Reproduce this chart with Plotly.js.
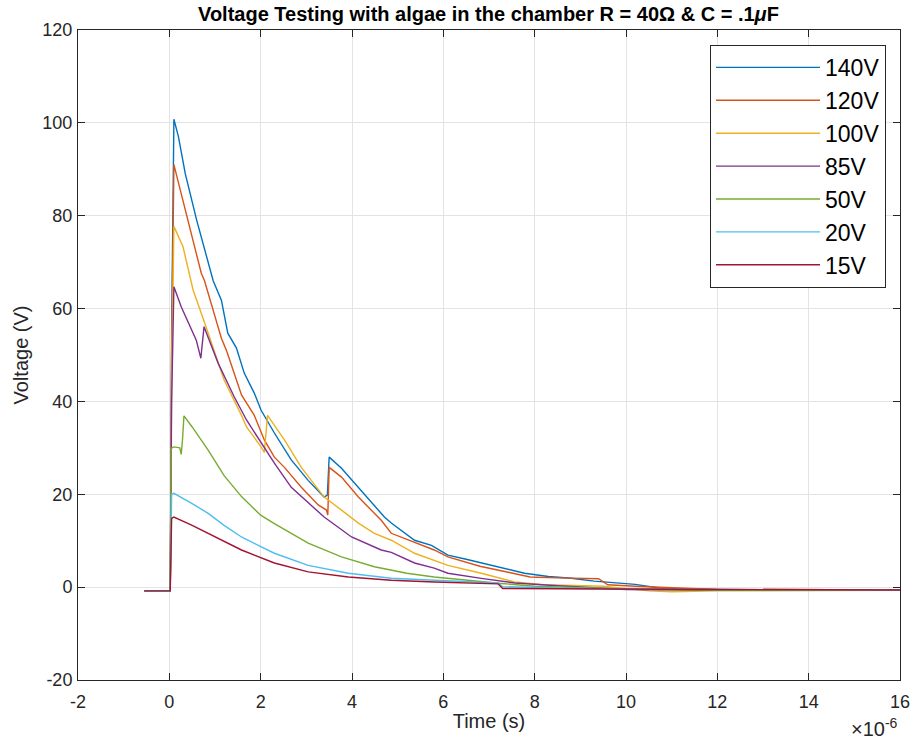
<!DOCTYPE html>
<html>
<head>
<meta charset="utf-8">
<script src="https://cdn.plot.ly/plotly-3.0.1.min.js"></script>
<style>html,body{margin:0;padding:0;background:#fff;}#chart{width:913px;height:740px;}</style>
</head>
<body>
<div id="chart"></div>
<script>
// time in units of 1e-6 s (axis shows ×10^-6), voltage in V
const labels = ["140V", "120V", "100V", "85V", "50V", "20V", "15V"];
const colors = ["#0072BD", "#D95319", "#EDB120", "#7E2F8E", "#77AC30", "#4DBEEE", "#A2142F"];

const t140 = [-0.55, 0.02, 0.05, 0.1, 0.2, 0.35, 0.6, 0.85, 0.96, 1.14, 1.28, 1.47, 1.64, 1.86, 2.01, 2.3, 2.67, 3.04, 3.39, 3.46, 3.5, 3.77, 4.14, 4.71, 4.86, 5.37, 5.74, 6.1, 6.5, 6.83, 7.3, 7.78, 8.3, 8.8, 9.3, 10.2, 10.8, 12, 14, 16];
const v140 = [-0.8, -0.8, 55, 100.8, 97, 89, 79, 70, 66, 61.8, 54.7, 51.5, 46.1, 41.8, 38.1, 33.2, 27.4, 23, 19.4, 19.8, 28, 25.6, 21.5, 15.1, 13.8, 10.1, 9, 6.9, 6, 5.2, 4, 3, 2.3, 1.9, 1.3, 0.6, -0.3, -0.5, -0.6, -0.6];

const t120 = [-0.55, 0.02, 0.05, 0.1, 0.33, 0.7, 0.77, 1.14, 1.25, 1.58, 1.86, 2.08, 2.3, 2.52, 2.89, 3.26, 3.44, 3.47, 3.5, 3.77, 4.14, 4.64, 4.86, 5.37, 5.8, 6.1, 6.8, 7.42, 7.9, 8.5, 9.4, 9.6, 10.2, 12, 14, 16];
const v120 = [-0.8, -0.8, 50, 91, 82, 67.6, 66, 53.6, 51, 41.4, 37, 31.7, 28, 25.8, 21.5, 17.7, 16.6, 15.5, 25.8, 23.7, 19.4, 14.4, 11.6, 9.7, 8, 6.5, 4.5, 3.2, 2.2, 2.0, 1.8, 0.5, 0.2, -0.5, -0.6, -0.6];

const t100 = [-0.55, 0.02, 0.05, 0.1, 0.3, 0.52, 0.77, 0.96, 1.2, 1.58, 1.69, 2.01, 2.08, 2.15, 2.52, 2.89, 3.39, 3.77, 4.14, 4.49, 4.86, 5.37, 5.8, 6.1, 6.83, 7.56, 8.2, 9.5, 10.5, 11, 12, 14, 16];
const v100 = [-0.8, -0.8, 45, 77.7, 73.3, 64, 57, 51.5, 44.6, 37, 34.5, 30.2, 29, 37, 31.7, 25.8, 19.4, 16.6, 13.8, 11.6, 10.1, 7.3, 5.8, 4.7, 3, 1.1, 0.5, 0.2, -0.8, -1, -0.8, -0.8, -0.7];

const t85 = [-0.55, 0.02, 0.05, 0.1, 0.26, 0.48, 0.59, 0.69, 0.72, 0.76, 1.07, 1.42, 1.69, 2.01, 2.3, 2.67, 3.04, 3.39, 3.99, 4.64, 4.86, 5.37, 5.8, 6.1, 6.83, 7.56, 8.5, 10, 12, 14, 16];
const v85 = [-0.8, -0.8, 40, 64.7, 60.4, 55.4, 53.2, 49.3, 52, 56.1, 48.2, 41, 36, 31, 26.7, 21.5, 18.1, 15.1, 10.8, 8, 7.5, 5.2, 4.1, 3, 1.9, 0.9, 0.3, -0.5, -0.7, -0.7, -0.7];

const t50 = [-0.55, 0.02, 0.04, 0.1, 0.23, 0.26, 0.29, 0.32, 0.5, 0.85, 1.2, 1.58, 2.0, 2.3, 3.04, 3.77, 4.49, 5.2, 5.8, 6.1, 7.27, 8, 10, 12, 14, 16];
const v50 = [-0.8, -0.8, 29.9, 30.2, 30, 28.6, 32, 36.9, 34.5, 29.5, 24, 19.5, 15.5, 13.7, 9.5, 6.5, 4.4, 3, 2.2, 1.9, 0.8, 0.2, -0.4, -0.6, -0.6, -0.6];

const t20 = [-0.55, 0.02, 0.05, 0.1, 0.5, 0.85, 1.2, 1.58, 2.3, 3.04, 3.92, 4.86, 5.8, 7.2, 7.3, 9, 12, 16];
const v20 = [-0.8, -0.8, 20, 20.2, 18, 15.9, 13.3, 10.8, 7.3, 4.7, 3, 1.9, 1.5, 0.9, 0.1, -0.3, -0.5, -0.6];

const t15 = [-0.55, 0.02, 0.05, 0.1, 0.5, 0.85, 1.2, 1.58, 2.3, 3.04, 3.92, 4.86, 5.8, 7.2, 7.3, 9, 12, 16];
const v15 = [-0.8, -0.8, 14.8, 15.1, 13.3, 11.6, 9.8, 8, 5.2, 3.3, 2.2, 1.5, 1.1, 0.7, -0.3, -0.4, -0.5, -0.6];

const xTickVals = [-2, 0, 2, 4, 6, 8, 10, 12, 14, 16];
const yTickVals = [-20, 0, 20, 40, 60, 80, 100, 120];

const series = [[t140, v140], [t120, v120], [t100, v100], [t85, v85], [t50, v50], [t20, v20], [t15, v15]];
const traces = series.map((s, i) => ({
  type: "scatter", mode: "lines", x: s[0], y: s[1], name: labels[i],
  line: {color: colors[i], width: 1.4}
}));

const FONT = "Liberation Sans, Arial, sans-serif";
const axisCommon = {
  showline: true, mirror: "ticks", linecolor: "#262626", linewidth: 1,
  ticks: "inside", ticklen: 7, tickcolor: "#262626",
  showgrid: true, gridcolor: "#e3e3e3", gridwidth: 1, zeroline: false,
  tickfont: {family: FONT, size: 18, color: "#262626"}
};

const layout = {
  width: 913, height: 740,
  margin: {l: 78, r: 13, t: 30, b: 60},
  paper_bgcolor: "#fff", plot_bgcolor: "#fff",
  title: {text: "<b>Voltage Testing with algae in the chamber R = 40Ω & C = .1<i>μ</i>F</b>",
          font: {family: FONT, size: 20, color: "#000"},
          x: 0.535, xanchor: "center", y: 0.981, yanchor: "middle"},
  xaxis: Object.assign({}, axisCommon, {range: [-2, 16], tickvals: xTickVals, ticktext: xTickVals.map(String),
    ticklabelstandoff: 5,
    title: {text: "Time (s)", font: {family: FONT, size: 20, color: "#262626"}, standoff: 3}}),
  yaxis: Object.assign({}, axisCommon, {range: [-20, 120], tickvals: yTickVals, ticktext: yTickVals.map(String),
    ticklabelstandoff: 1,
    title: {text: "Voltage (V)", font: {family: FONT, size: 20, color: "#262626"}, standoff: 8}}),
  showlegend: true,
  legend: {x: 0.983, xanchor: "right", y: 0.977, yanchor: "top",
    bgcolor: "#fff", bordercolor: "#262626", borderwidth: 1,
    font: {family: FONT, size: 23, color: "#000"},
    itemwidth: 104},
  annotations: [{xref: "paper", yref: "paper", x: 1.0, y: -0.05, xanchor: "right", yanchor: "top",
    text: "×10<sup>-6</sup>", showarrow: false,
    font: {family: FONT, size: 20, color: "#262626"}}]
};

Plotly.newPlot("chart", traces, layout, {displayModeBar: false, staticPlot: true});
</script>
</body>
</html>
